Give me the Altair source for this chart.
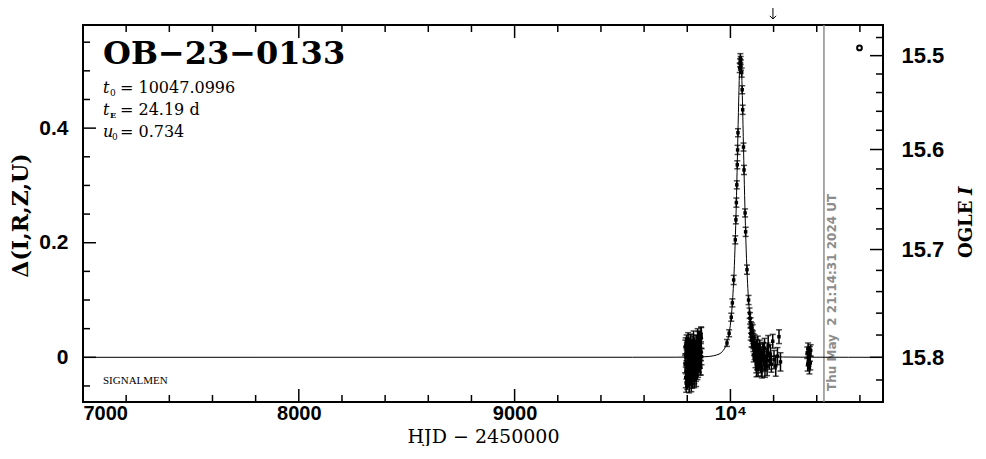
import math
import altair as alt
import pandas as pd

# ---------------- data ----------------
# 2022 season (baseline)
s1_t = [9790, 9791, 9793, 9794, 9796, 9797, 9799, 9800, 9802, 9803,
        9805, 9806, 9808, 9809, 9811, 9812, 9814, 9815, 9817, 9818,
        9820, 9821, 9823, 9824, 9826, 9828, 9829, 9831, 9833, 9834,
        9836, 9838, 9840, 9842, 9843, 9845, 9847, 9849, 9851, 9853,
        9855, 9857, 9859, 9861, 9863, 9865, 9866,
        9792.5, 9795, 9798, 9801, 9804, 9807, 9810, 9813, 9816, 9819,
        9822, 9825, 9827, 9830, 9832, 9835, 9837, 9839, 9841, 9844,
        9846, 9848, 9850, 9852, 9854, 9856, 9858, 9860, 9862, 9864]
s1_d = [-0.012, 0.018, -0.035, 0.004, -0.022, 0.026, -0.008, -0.041, 0.011, -0.018,
        0.021, -0.029, 0.002, -0.047, 0.015, -0.006, -0.033, 0.024, -0.015, 0.008,
        -0.025, 0.019, -0.038, -0.003, 0.013, -0.020, 0.028, -0.011, -0.030, 0.006,
        0.017, -0.016, -0.027, 0.010, 0.022, -0.009, -0.021, 0.003, 0.030, -0.013,
        0.014, -0.005, 0.025, -0.018, 0.009, 0.034, 0.001,
        0.020, -0.045, 0.012, -0.026, 0.031, -0.037, 0.005, -0.014, 0.027, -0.044,
        0.009, -0.031, 0.023, -0.002, -0.040, 0.018, -0.024, 0.012, -0.034, 0.026,
        -0.007, 0.036, -0.019, 0.016, -0.010, 0.032, -0.004, 0.021, -0.015, 0.040]
s1_e = [0.015, 0.012, 0.018, 0.014, 0.016, 0.013, 0.017, 0.015, 0.012, 0.019,
        0.014, 0.016, 0.013, 0.015, 0.012, 0.018, 0.014, 0.016, 0.013, 0.015,
        0.017, 0.012, 0.016, 0.014, 0.013, 0.015, 0.018, 0.012, 0.016, 0.014,
        0.013, 0.017, 0.015, 0.012, 0.016, 0.014, 0.018, 0.013, 0.015, 0.012,
        0.016, 0.014, 0.017, 0.013, 0.015, 0.018, 0.014,
        0.014, 0.016, 0.013, 0.017, 0.012, 0.015, 0.014, 0.018, 0.013, 0.016,
        0.012, 0.017, 0.014, 0.015, 0.013, 0.016, 0.014, 0.012, 0.017, 0.013,
        0.015, 0.014, 0.016, 0.013, 0.017, 0.014, 0.015, 0.012, 0.016, 0.013]

# 2023 season (event)
ev_t = [9984, 9994, 10004, 10009, 10015, 10022.6, 10025.4, 10027.5, 10029.6, 10031.7,
        10033.3, 10035, 10042.8, 10044.5, 10046, 10047.5, 10048.5,
        10052.2, 10054.5, 10056.8, 10060.6, 10063, 10068, 10070.5, 10076.7, 10084.1,
        10088.7, 10093.3,
        10095, 10097, 10099, 10101, 10102, 10104, 10106, 10107, 10109, 10111,
        10112, 10114, 10116, 10118, 10120, 10122, 10124, 10126, 10128, 10130,
        10133, 10136, 10139, 10142, 10146, 10150, 10154, 10158, 10162, 10166,
        10170, 10175, 10180, 10185, 10190, 10196, 10202, 10210, 10218, 10225, 10232,
        10091, 10094, 10098, 10103, 10108, 10113, 10117, 10121, 10127, 10131,
        10138, 10144, 10152, 10160, 10172]
ev_d = [0.025, 0.042, 0.070, 0.095, 0.135, 0.205, 0.240, 0.270, 0.301, 0.336,
        0.362, 0.392, 0.505, 0.514, 0.522, 0.518, 0.510,
        0.497, 0.467, 0.432, 0.367, 0.327, 0.252, 0.219, 0.153, 0.100,
        0.077, 0.060,
        0.052, 0.045, 0.048, 0.038, 0.030, 0.035, 0.022, 0.028, 0.015, 0.020,
        0.008, 0.012, -0.004, 0.006, -0.012, 0.018, -0.008, 0.002, -0.018, 0.010,
        -0.006, 0.014, -0.014, 0.004, -0.022, 0.009, -0.003, 0.016, -0.010, 0.001,
        -0.016, 0.020, -0.006, 0.005, -0.012, 0.028, -0.004, -0.015, 0.002, 0.036, -0.008,
        0.068, 0.041, 0.030, 0.044, 0.004, 0.025, 0.011, -0.020, 0.022, -0.010,
        0.008, -0.017, 0.012, -0.020, 0.009]
ev_e = [0.006, 0.006, 0.007, 0.007, 0.008, 0.007, 0.007, 0.008, 0.007, 0.007,
        0.008, 0.007, 0.008, 0.007, 0.008, 0.007, 0.009,
        0.008, 0.007, 0.008, 0.007, 0.008, 0.007, 0.008, 0.008, 0.008,
        0.009, 0.009,
        0.010, 0.010, 0.012, 0.010, 0.012, 0.011, 0.012, 0.013, 0.012, 0.014,
        0.012, 0.013, 0.014, 0.012, 0.015, 0.013, 0.014, 0.012, 0.015, 0.013,
        0.014, 0.016, 0.013, 0.015, 0.014, 0.016, 0.013, 0.017, 0.014, 0.015,
        0.016, 0.018, 0.015, 0.017, 0.014, 0.012, 0.016, 0.018, 0.015, 0.012, 0.016,
        0.010, 0.011, 0.012, 0.013, 0.012, 0.014, 0.013, 0.014, 0.015, 0.013,
        0.015, 0.016, 0.014, 0.015, 0.016]

# 2024 season
s3_t = [10356, 10358, 10360, 10362, 10364, 10366, 10368, 10370, 10372]
s3_d = [0.008, -0.012, 0.015, -0.004, 0.002, -0.018, 0.006, -0.010, 0.012]
s3_e = [0.010, 0.012, 0.010, 0.011, 0.012, 0.011, 0.013, 0.012, 0.010]

# model curve as drawn
model_t = [7000, 9547, 9747, 9847, 9897, 9947, 9967, 9977, 9987, 9997,
           10002, 10007, 10012, 10017, 10019.5, 10022, 10024.5, 10027, 10029.5, 10032,
           10034.5, 10037, 10039.5, 10042, 10044.5, 10047, 10049.5, 10052, 10054.5, 10057,
           10059.5, 10062, 10064.5, 10067, 10069.5, 10072, 10074.5, 10077, 10082, 10087,
           10092, 10097, 10107, 10117, 10127, 10147, 10197, 10247, 10347, 10547, 10707]
model_d = [0.0, 0.0001, 0.0002, 0.0005, 0.0014, 0.0056, 0.0121, 0.0184, 0.0296, 0.0489,
           0.064, 0.0843, 0.112, 0.149, 0.1727, 0.1996, 0.230, 0.264, 0.302, 0.343,
           0.385, 0.427, 0.466, 0.498, 0.519, 0.526, 0.519, 0.498, 0.466, 0.427,
           0.385, 0.343, 0.302, 0.264, 0.230, 0.1996, 0.1727, 0.149, 0.112, 0.0843,
           0.064, 0.0489, 0.0296, 0.0184, 0.0121, 0.0056, 0.0014, 0.0005, 0.0002, 0.0001, 0.0]

# axes / annotations
x_major = [7000, 8000, 9000, 10000]
x_minor = [7200, 7400, 7600, 7800, 8200, 8400, 8600, 8800, 9200, 9400, 9600, 9800,
           10200, 10400, 10600]
y_major = [0.0, 0.2, 0.4]
y_minor = [-0.05, 0.05, 0.10, 0.15, 0.25, 0.30, 0.35, 0.45, 0.50, 0.55]
mag_major = [15.5, 15.6, 15.7, 15.8]
mag_minor = [15.48, 15.52, 15.54, 15.56, 15.58, 15.62, 15.64, 15.66, 15.68,
             15.72, 15.74, 15.76, 15.78, 15.82]
I_BASE = 15.8
F_SOURCE = 0.51
now_hjd = 10433.4
now_text = "Thu May\u00a0\u00a02 21:14:31 2024 UT"
arrow_hjd = 10197
sym_t, sym_d = [10598], [0.540]

XMIN, XMAX = 7000, 10707
YMIN, YMAX = -0.078, 0.58
W, H = 800, 377


def mag_to_delta(m):
    return 2.5 * math.log10(1 + (10 ** (-0.4 * (m - I_BASE)) - 1) / F_SOURCE)


# ---------------- build ----------------
obs = pd.DataFrame({"t": s1_t + ev_t + s3_t,
                    "d": s1_d + ev_d + s3_d,
                    "e": s1_e + ev_e + s3_e})
obs["lo"] = obs["d"] - obs["e"]
obs["hi"] = obs["d"] + obs["e"]
model = pd.DataFrame({"t": model_t, "d": model_d})

xs = alt.Scale(domain=[XMIN, XMAX], nice=False, zero=False)
ys = alt.Scale(domain=[YMIN, YMAX], nice=False, zero=False)

TICKFONT = "Liberation Sans"
xaxis = alt.Axis(values=x_major, format="d",
                 labelExpr="datum.value == 10000 ? '10\u2074' : datum.label",
                 ticks=False, domain=False, grid=False,
                 labelFont=TICKFONT, labelFontSize=20, labelFontWeight="bold",
                 labelColor="black", labelPadding=1,
                 title="HJD \u2212 2450000", titleFont="DejaVu Serif", titleFontSize=19,
                 titleFontWeight="normal", titleColor="black",
                 titleY=40, titleBaseline="alphabetic")
left_axis = alt.Axis(values=y_major,
                     labelExpr="datum.value == 0 ? '0' : format(datum.value, '.1f')",
                     ticks=False, domain=False, grid=False,
                     labelFont=TICKFONT, labelFontSize=21, labelFontWeight="bold",
                     labelColor="black", labelPadding=15,
                     title="\u0394(I,R,Z,U)", titleFont="DejaVu Serif", titleFontSize=22,
                     titleFontWeight="bold", titleColor="black",
                     titleX=-63, titleY=190, titleAngle=270, titleBaseline="middle")
right_axis = alt.Axis(orient="right", values=[mag_to_delta(m) for m in mag_major],
                      labelExpr=("datum.value > 0.45 ? '15.5' : datum.value > 0.27 ? '15.6'"
                                 " : datum.value > 0.09 ? '15.7' : '15.8'"),
                      ticks=False, domain=False, grid=False,
                      labelFont=TICKFONT, labelFontSize=22, labelFontWeight="bold",
                      labelColor="black", labelPadding=18, title="")


def X(f):
    return alt.X(f, type="quantitative", scale=xs, axis=xaxis)


def Y(f, axis=None):
    return alt.Y(f, type="quantitative", scale=ys, axis=axis)


def txt(s, x, y, **kw):
    return alt.Chart(pd.DataFrame({"s": [s]})).mark_text(**kw).encode(
        text="s:N", x=alt.value(x), y=alt.value(y))


layers = []

# date line + text
nowdf = pd.DataFrame({"t": [now_hjd], "s": [now_text]})
layers.append(alt.Chart(nowdf).mark_rule(color="#8c8c8c", strokeWidth=1.5).encode(x=X("t")))
layers.append(alt.Chart(nowdf).mark_text(angle=270, align="left", baseline="middle", dy=8,
                                         font="DejaVu Sans", fontWeight="bold", fontSize=12,
                                         color="#8c8c8c").encode(x=X("t"), y=alt.value(366), text="s:N"))

# model and data
layers.append(alt.Chart(model).mark_line(color="black", strokeWidth=1, interpolate="monotone").encode(
    x=X("t"), y=Y("d", left_axis)))
layers.append(alt.Chart(obs).mark_rule(color="black", strokeWidth=1.5).encode(
    x=X("t"), y=Y("lo"), y2=alt.Y2("hi")))
layers.append(alt.Chart(obs).mark_tick(color="black", orient="horizontal", size=6, thickness=1.5).encode(
    x=X("t"), y=Y("lo")))
layers.append(alt.Chart(obs).mark_tick(color="black", orient="horizontal", size=6, thickness=1.5).encode(
    x=X("t"), y=Y("hi")))
layers.append(alt.Chart(obs).mark_square(color="black", size=12, opacity=1).encode(
    x=X("t"), y=Y("d")))

# inward ticks on all four sides
tk = dict(color="black", thickness=1.5, opacity=1)
layers.append(alt.Chart(pd.DataFrame({"v": y_major})).mark_tick(orient="horizontal", size=13, **tk).encode(
    y=Y("v"), x=alt.value(6.5)))
layers.append(alt.Chart(pd.DataFrame({"v": y_minor})).mark_tick(orient="horizontal", size=7, **tk).encode(
    y=Y("v"), x=alt.value(3.5)))
layers.append(alt.Chart(pd.DataFrame({"p": [mag_to_delta(m) for m in mag_major]})).mark_tick(
    orient="horizontal", size=13, **tk).encode(y=Y("p", right_axis), x=alt.value(W - 6.5)))
layers.append(alt.Chart(pd.DataFrame({"p": [mag_to_delta(m) for m in mag_minor]})).mark_tick(
    orient="horizontal", size=7, **tk).encode(y=Y("p"), x=alt.value(W - 3.5)))
for vals, ln in ((x_major, 13), (x_minor, 7)):
    df = pd.DataFrame({"v": vals})
    layers.append(alt.Chart(df).mark_tick(orient="vertical", size=ln, **tk).encode(
        x=X("v"), y=alt.value(H - ln / 2)))
    layers.append(alt.Chart(df).mark_tick(orient="vertical", size=ln, **tk).encode(
        x=X("v"), y=alt.value(ln / 2)))

# symbol at top right
layers.append(alt.Chart(pd.DataFrame({"t": sym_t, "d": sym_d})).mark_point(
    shape="circle", filled=False, size=22, strokeWidth=2, color="black", opacity=1).encode(
    x=X("t"), y=Y("d")))

# arrow above the frame
adf = pd.DataFrame({"t": [arrow_hjd]})
layers.append(alt.Chart(adf).mark_rule(color="black", strokeWidth=1).encode(
    x=X("t"), y=alt.value(-17), y2=alt.value(-6)))
layers.append(alt.Chart(adf).mark_point(shape="M-1,-1L0,0L1,-1", filled=False, size=40,
                                        strokeWidth=1, color="black", opacity=1).encode(
    x=X("t"), y=alt.value(-6)))

# texts
layers.append(txt("OB\u221223\u22120133", 20, 39, font="DejaVu Serif", fontSize=32, fontWeight="bold",
                  align="left", baseline="alphabetic", color="black"))
ser = dict(font="DejaVu Serif", align="left", baseline="alphabetic", color="black")
layers.append(txt("t", 20, 68, fontSize=16, fontStyle="italic", **ser))
layers.append(txt("0", 27, 71, fontSize=9, **ser))
layers.append(txt("= 10047.0996", 37, 68, fontSize=16, **ser))
layers.append(txt("t", 20, 90, fontSize=16, fontStyle="italic", **ser))
layers.append(txt("E", 27, 93, fontSize=8, fontWeight="bold", **ser))
layers.append(txt("= 24.19 d", 37, 90, fontSize=16, **ser))
layers.append(txt("u", 20, 112, fontSize=16, fontStyle="italic", **ser))
layers.append(txt("0", 29, 115, fontSize=9, **ser))
layers.append(txt("= 0.734", 37, 112, fontSize=16, **ser))
layers.append(txt("SIGNALMEN", 20, 359, font="Liberation Serif", fontSize=11,
                  align="left", baseline="alphabetic", color="black"))
# right axis title
layers.append(txt("OGLE", 884, 233, font="DejaVu Serif", fontSize=18, fontWeight="bold",
                  angle=270, align="left", baseline="middle", color="black"))
layers.append(txt("I", 884, 170, font="DejaVu Serif", fontSize=18, fontWeight="bold",
                  fontStyle="italic", angle=270, align="left", baseline="middle", color="black"))

chart = alt.layer(*layers).resolve_scale(y="independent").properties(
    width=W, height=H, autosize="none",
    padding={"left": 75, "top": 17, "right": 95, "bottom": 44},
).configure_view(stroke="black", strokeWidth=2)

chart.save("out.html", embed_options={"renderer": "svg", "actions": False})
